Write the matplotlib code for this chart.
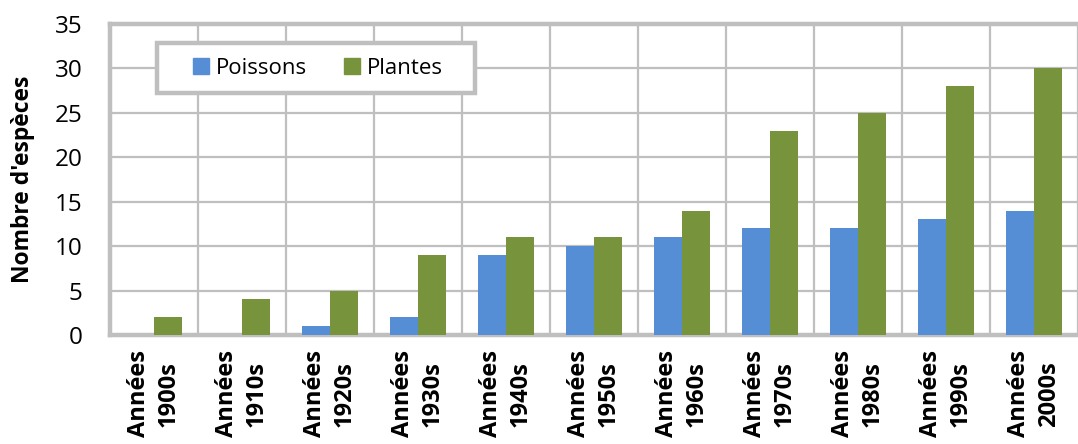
import matplotlib
matplotlib.use("Agg")
import matplotlib.pyplot as plt
import numpy as np
from matplotlib.patches import Patch, Rectangle

decades = ["1900s", "1910s", "1920s", "1930s", "1940s", "1950s",
           "1960s", "1970s", "1980s", "1990s", "2000s"]
poissons = [0, 0, 1, 2, 9, 10, 11, 12, 12, 13, 14]
plantes = [2, 4, 5, 9, 11, 11, 14, 23, 25, 28, 30]
tick_labels = [f"Années\n{d}" for d in decades]

plt.rcParams["font.family"] = ["Open Sans", "DejaVu Sans"]

BLUE = "#558ED5"
GREEN = "#77933C"
GRID = "#BFBFBF"

W, H = 1078, 444
fig = plt.figure(figsize=(W / 100, H / 100), dpi=100)
ax = fig.add_axes([110 / W, 1 - 335 / H, (W - 110) / W, (335 - 24) / H])

x = np.arange(len(decades))
bw = 0.32
ax.bar(x - bw / 2, poissons, bw, color=BLUE, zorder=3, label="Poissons")
ax.bar(x + bw / 2, plantes, bw, color=GREEN, zorder=3, label="Plantes")

ax.set_xlim(-0.5, len(decades) - 0.5)
ax.set_ylim(0, 35)
ax.set_yticks(range(0, 36, 5))
ax.tick_params(axis="y", length=0, labelsize=17.5, pad=20)
ax.set_xticks(x)
ax.set_xticklabels(tick_labels, rotation=90, fontsize=17, fontweight="bold",
                   ha="center", va="top", multialignment="center",
                   linespacing=1.3)
ax.tick_params(axis="x", length=0, pad=11)

# category separators and value grid
ax.set_xticks(np.arange(-0.5, len(decades)), minor=True)
ax.tick_params(axis="x", which="minor", length=0)
ax.grid(axis="x", which="minor", color=GRID, linewidth=1.6, zorder=0)
ax.grid(axis="y", which="major", color=GRID, linewidth=1.6, zorder=0)

for side in ["left", "bottom", "top"]:
    ax.spines[side].set_color(GRID)
    ax.spines[side].set_linewidth(3.2)
ax.spines["right"].set_visible(False)

ax.set_ylabel("Nombre d'espèces", fontsize=16.5, fontweight="bold")
ax.yaxis.set_label_coords(35 / W, 1 - 179 / H, transform=fig.transFigure)

# legend frame box
bx0, bx1, by0, by1 = 157, 475, 43, 93
ax.add_patch(Rectangle((bx0 / W, 1 - by1 / H), (bx1 - bx0) / W, (by1 - by0) / H,
                       transform=fig.transFigure, facecolor="white",
                       edgecolor=GRID, linewidth=3.2, zorder=4, clip_on=False))

handles = [Patch(color=BLUE, label="Poissons"), Patch(color=GREEN, label="Plantes")]
leg = fig.legend(handles=handles, ncol=2, loc="center",
                 bbox_to_anchor=((bx0 + bx1) / 2 / W + 2 / W, 1 - (by0 + by1) / 2 / H),
                 fontsize=16, frameon=False, borderaxespad=0, borderpad=0,
                 handlelength=0.72, handleheight=0.72, handletextpad=0.32,
                 columnspacing=1.65)
leg.set_zorder(6)

fig.savefig("out.png", dpi=100)
